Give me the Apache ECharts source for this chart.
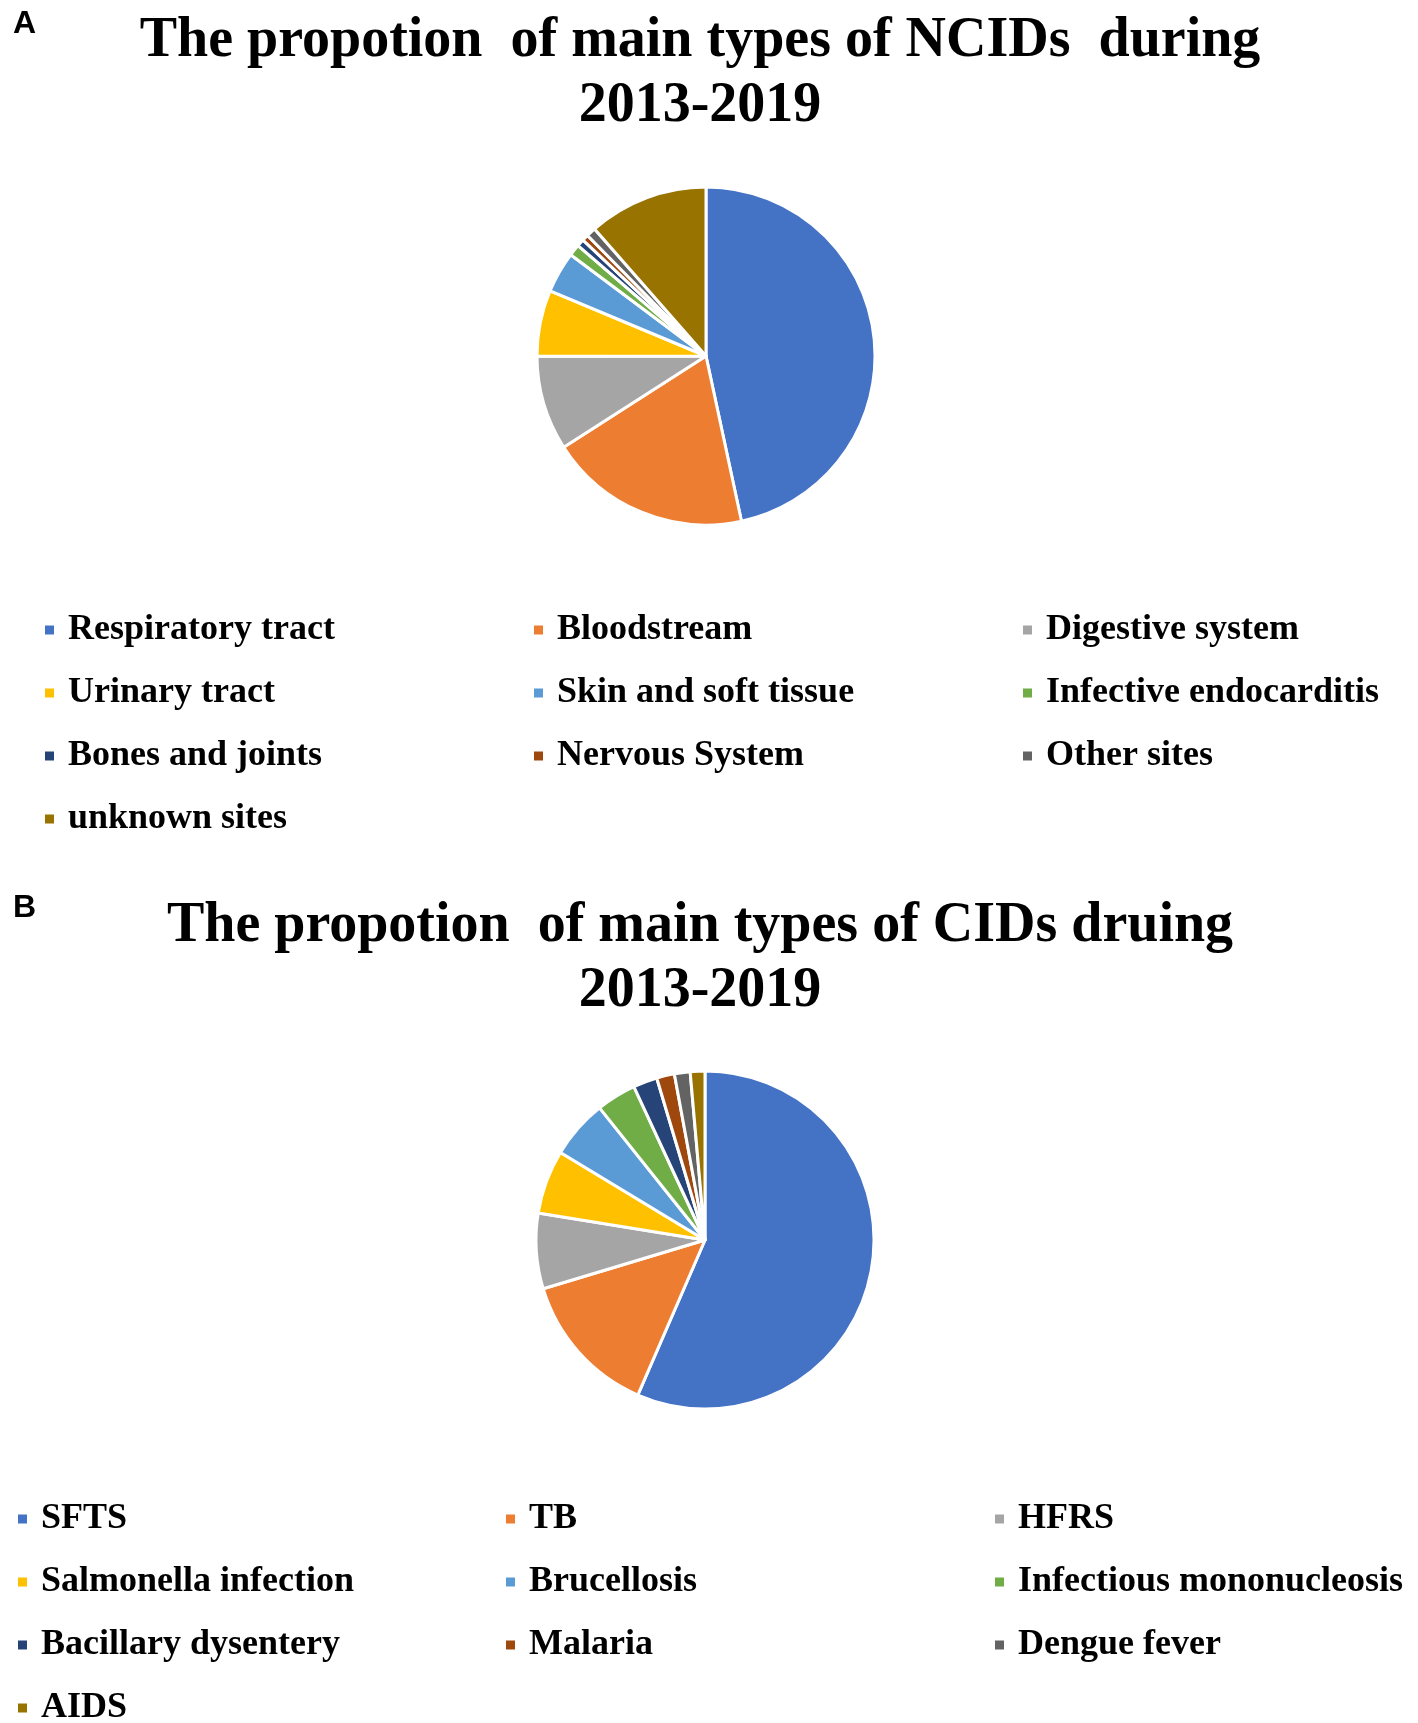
<!DOCTYPE html>
<html>
<head>
<meta charset="utf-8">
<title>NCIDs / CIDs proportions</title>
<script src="https://cdn.jsdelivr.net/npm/echarts@6/dist/echarts.min.js"></script>
<style>
    html, body { margin: 0; padding: 0; background: #fff; }
    #main { width: 1418px; height: 1723px; }
</style>
</head>
<body>
<div id="main"></div>
<script>
// panel A - non-communicable infectious diseases, share by site (%)
var ncidNames = ['Respiratory tract', 'Bloodstream', 'Digestive system', 'Urinary tract',
    'Skin and soft tissue', 'Infective endocarditis', 'Bones and joints', 'Nervous System',
    'Other sites', 'unknown sites'];
var ncidValues = [46.4, 19.2, 9.0, 6.3, 3.9, 1.1, 0.7, 0.6, 0.9, 11.4];

// panel B - communicable infectious diseases (%)
var cidNames = ['SFTS', 'TB', 'HFRS', 'Salmonella infection', 'Brucellosis',
    'Infectious mononucleosis', 'Bacillary dysentery', 'Malaria', 'Dengue fever', 'AIDS'];
var cidValues = [56.4, 13.8, 7.2, 6.1, 5.6, 3.8, 2.3, 1.7, 1.5, 1.4];

var officeColors = ['#4472C4', '#ED7D31', '#A5A5A5', '#FFC000', '#5B9BD5',
    '#70AD47', '#264478', '#9E480E', '#636363', '#997300'];

var serif = '"Liberation Serif", "Times New Roman", serif';

function toPieData(names, values) {
    var out = [];
    for (var i = 0; i < names.length; i++) {
        out.push({ name: names[i], value: values[i] });
    }
    return out;
}

// legend is 3 columns, built as one vertical legend per column.
// height is given so the last column does not wrap at the bottom edge
function columnLegends(names, lefts, top) {
    var list = [];
    for (var c = 0; c < 3; c++) {
        var col = [];
        for (var i = c; i < names.length; i += 3) col.push(names[i]);
        list.push({
            orient: 'vertical',
            left: lefts[c],
            top: top,
            height: 300,
            padding: 0,
            itemGap: 23,
            itemWidth: 11,
            itemHeight: 11,
            icon: 'rect',
            selectedMode: false,
            data: col,
            textStyle: {
                fontFamily: serif,
                fontWeight: 'bold',
                fontSize: 36,
                lineHeight: 40,
                color: '#000',
                padding: [0, 0, 0, 8]
            }
        });
    }
    return list;
}

function pieSeries(name, data, center) {
    return {
        name: name,
        type: 'pie',
        center: center,
        radius: 169,
        startAngle: 90,
        clockwise: true,
        silent: true,
        label: { show: false },
        labelLine: { show: false },
        itemStyle: { borderColor: '#fff', borderWidth: 3 },
        data: data
    };
}

var titleStyle = {
    fontFamily: serif,
    fontWeight: 'bold',
    fontSize: 56,
    lineHeight: 65,
    color: '#000'
};
var tagStyle = {
    fontFamily: '"Liberation Sans", Arial, sans-serif',
    fontWeight: 'bold',
    fontSize: 32,
    lineHeight: 32,
    color: '#000'
};

var option = {
    animation: false,
    backgroundColor: '#fff',
    color: officeColors,
    title: [
        { text: 'A', left: 13, top: 8, padding: 0, textStyle: tagStyle },
        { text: 'The propotion  of main types of NCIDs  during\n2013-2019', left: 700, top: 9,
            padding: 0, textAlign: 'center', textStyle: titleStyle },
        { text: 'B', left: 13, top: 892, padding: 0, textStyle: tagStyle },
        { text: 'The propotion  of main types of CIDs druing\n2013-2019', left: 700, top: 894,
            padding: 0, textAlign: 'center', textStyle: titleStyle }
    ],
    legend: columnLegends(ncidNames, [43, 532, 1021], 610)
        .concat(columnLegends(cidNames, [16, 504, 993], 1499)),
    series: [
        pieSeries('NCIDs', toPieData(ncidNames, ncidValues), [706, 356]),
        pieSeries('CIDs', toPieData(cidNames, cidValues), [705, 1240])
    ]
};

var myChart = echarts.init(document.getElementById('main'));
myChart.setOption(option);
</script>
</body>
</html>
